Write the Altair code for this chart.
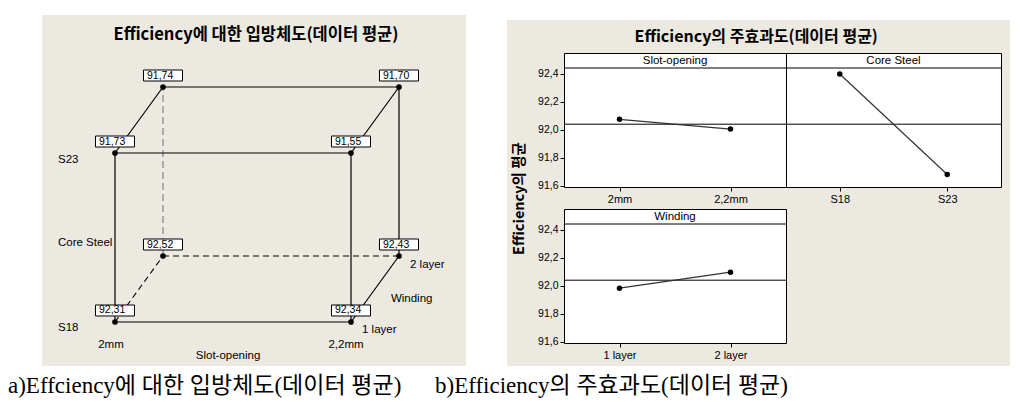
import altair as alt
import pandas as pd

GRAY = "#ECE9E1"
KFONT = "Noto Sans CJK KR"
LFONT = "Liberation Sans"

# ---------------- data: cube plot (data means at each corner) ----------------
slot_levels = ["2mm", "2,2mm"]
core_levels = ["S18", "S23"]
winding_levels = ["1 layer", "2 layer"]
cube_slot = [0, 1, 0, 1, 0, 1, 0, 1]          # 0 = 2mm, 1 = 2,2mm
cube_core = [0, 0, 1, 1, 0, 0, 1, 1]          # 0 = S18, 1 = S23
cube_wind = [0, 0, 0, 0, 1, 1, 1, 1]          # 0 = 1 layer, 1 = 2 layer
cube_values = [92.31, 92.34, 91.73, 91.55, 92.52, 92.43, 91.74, 91.70]

# ---------------- data: main effects ----------------
slot_means = [92.075, 92.005]
core_means = [92.40, 91.68]
wind_means = [91.9825, 92.0975]
grand_mean = 92.04
y_ticks = [91.6, 91.8, 92.0, 92.2, 92.4]

left_title = "Efficiency에 대한 입방체도(데이터 평균)"
right_title = "Efficiency의 주효과도(데이터 평균)"
y_title = "Efficiency의 평균"
caption_a = "a)Effciency에 대한 입방체도(데이터 평균)"
caption_b = "b)Efficiency의 주효과도(데이터 평균)"

# ---------------- cube plot ----------------
DX, DY = 0.2034, 0.3905   # oblique projection of the Winding axis
cube = pd.DataFrame({"slot": cube_slot, "core": cube_core, "wind": cube_wind, "value": cube_values})
cube["px"] = cube["slot"] + DX * cube["wind"]
cube["py"] = cube["core"] + DY * cube["wind"]
cube["label"] = [f"{v:.2f}".replace(".", ",") for v in cube_values]

edge_list = [(0, 1, "solid"), (2, 3, "solid"), (0, 2, "solid"), (1, 3, "solid"),
             (6, 7, "solid"), (5, 7, "solid"), (2, 6, "solid"), (3, 7, "solid"),
             (1, 5, "solid"), (4, 5, "dash"), (0, 4, "dash"), (4, 6, "gray")]
rows = []
for i, (a, b, s) in enumerate(edge_list):
    for k, idx in enumerate((a, b)):
        rows.append({"edge": i, "ord": k, "px": cube.px[idx], "py": cube.py[idx], "style": s})
edges = pd.DataFrame(rows)

XD = [-0.3093, 1.4873]
YD = [-0.2604, 1.8166]
CX = alt.X("px:Q", scale=alt.Scale(domain=XD, nice=False, zero=False), axis=None)
CY = alt.Y("py:Q", scale=alt.Scale(domain=YD, nice=False, zero=False), axis=None)

def edge_layer(style, **kw):
    return alt.Chart(edges[edges["style"] == style]).mark_line(**kw).encode(
        x=CX, y=CY, detail="edge:N", order="ord:Q")

gray_edges = edge_layer("gray", color="#8c8c8c", strokeWidth=1.3, strokeDash=[7, 4])
dash_edges = edge_layer("dash", color="black", strokeWidth=1.1, strokeDash=[6, 4])
solid_edges = edge_layer("solid", color="black", strokeWidth=1.2)
dots = alt.Chart(cube).mark_circle(size=32, color="black", opacity=1).encode(x=CX, y=CY)
boxes = alt.Chart(cube).mark_rect(width=39, height=11, yOffset=-11.5, fill="white",
                                  stroke="black", strokeWidth=1).encode(x=CX, y=CY)
box_text = alt.Chart(cube).mark_text(align="left", baseline="middle", dx=-16, dy=-11.5,
                                     font=LFONT, fontSize=10.5, color="black").encode(
    x=CX, y=CY, text="label:N")

ann_left = pd.DataFrame({
    "text": ["S23", "S18", "Core Steel", "2 layer", "Winding", "1 layer"],
    "px": [-0.2415, -0.2415, -0.2415, 1.25, 1.169, 1.0466],
    "py": [0.9586, -0.0355, 0.4675, 0.337, 0.136, -0.047],
})
ann_center = pd.DataFrame({
    "text": ["2mm", "2,2mm", "Slot-opening"],
    "px": [-0.017, 0.979, 0.479],
    "py": [-0.136, -0.136, -0.201],
})
ann_l = alt.Chart(ann_left).mark_text(align="left", baseline="middle", font=LFONT,
                                      fontSize=11.5, color="black").encode(x=CX, y=CY, text="text:N")
ann_c = alt.Chart(ann_center).mark_text(align="center", baseline="middle", font=LFONT,
                                        fontSize=11.5, color="black").encode(x=CX, y=CY, text="text:N")
ltitle = alt.Chart(pd.DataFrame({"t": [left_title]})).mark_text(
    font=KFONT, fontSize=16.5, fontWeight="bold", color="black", baseline="middle").encode(
    text="t:N", x=alt.value(214), y=alt.value(20))

left_panel = alt.layer(gray_edges, dash_edges, solid_edges, dots, boxes, box_text,
                       ann_l, ann_c, ltitle).properties(width=424, height=351)

# ---------------- main effects plot ----------------
YDOM = [91.59, 92.55]
PH = 134

def effect_panel(levels, means, header, width, show_y, with_title=False):
    df = pd.DataFrame({"level": levels, "mean": means})
    x = alt.X("level:N", sort=levels, scale=alt.Scale(type="point", padding=0.5),
              axis=alt.Axis(title=None, labelAngle=0, domain=False, grid=False, tickSize=4,
                            tickColor="black", labelColor="black", labelFont=LFONT,
                            labelFontSize=11, labelPadding=2))
    if show_y:
        ax_kw = dict(values=y_ticks, labelExpr="replace(format(datum.value, '.1f'), '.', ',')",
                     domain=False, grid=False, tickSize=4, tickColor="black",
                     labelColor="black", labelFont=LFONT, labelFontSize=10.5, labelPadding=2)
        if with_title:
            ax_kw.update(title=y_title, titleFont=KFONT, titleFontSize=14.5, titleFontWeight="bold",
                         titleColor="black", titleX=-38, titleY=145, titleAngle=270,
                         titleAlign="center", titleBaseline="bottom")
        else:
            ax_kw.update(title=None)
        yax = alt.Axis(**ax_kw)
    else:
        yax = None
    sc = alt.Scale(domain=YDOM, nice=False, zero=False)
    if yax is None:
        ye = alt.Y("mean:Q", scale=sc, axis=None)
        ym = alt.Y("m:Q", scale=sc, axis=None)
    else:
        ye = alt.Y("mean:Q", scale=sc, axis=yax)
        ym = alt.Y("m:Q", scale=sc, axis=yax)
    base = alt.Chart(df)
    mean_rule = alt.Chart(pd.DataFrame({"m": [grand_mean]})).mark_rule(
        color="black", strokeWidth=1).encode(y=ym)
    head_rule = alt.Chart(pd.DataFrame({"h": [0]})).mark_rule(color="black", strokeWidth=1).encode(
        x=alt.value(0), x2=alt.value(width), y=alt.value(15))
    head_text = alt.Chart(pd.DataFrame({"t": [header]})).mark_text(
        font=LFONT, fontSize=11.5, color="black", baseline="middle").encode(
        text="t:N", x=alt.value(width / 2), y=alt.value(8))
    line = base.mark_line(color="#333333", strokeWidth=1.2).encode(x=x, y=ye)
    pts = base.mark_circle(size=30, color="black", opacity=1).encode(x=x, y=ye)
    return alt.layer(mean_rule, head_rule, head_text, line, pts).properties(
        width=width, height=PH,
        view=alt.ViewBackground(fill="white", stroke="black", strokeWidth=1))

slot_p = effect_panel(slot_levels, slot_means, "Slot-opening", 222, True, True)
core_p = effect_panel(core_levels, core_means, "Core Steel", 215, False)
wind_p = effect_panel(winding_levels, wind_means, "Winding", 222, True)

right_panel = alt.concat(
    slot_p, core_p, wind_p, columns=2, spacing={"row": 22, "column": 0}, bounds="flush",
    title=alt.TitleParams(right_title, font=KFONT, fontSize=16, fontWeight="bold",
                          color="black", anchor="middle", offset=8))

# ---------------- layout fillers ----------------
def filler(w, h, fill=None):
    c = alt.Chart(pd.DataFrame({"z": [0]})).mark_rect(opacity=0).encode(
        x=alt.value(0), x2=alt.value(1), y=alt.value(0), y2=alt.value(1))
    if fill:
        return c.properties(width=w, height=h, view=alt.ViewBackground(fill=fill))
    return c.properties(width=w, height=h)

left_col = alt.vconcat(filler(424, 7, "white"), left_panel, spacing=0)
right_col = alt.vconcat(filler(503, 12, "white"), filler(1, 8),
                        alt.hconcat(filler(3, 1), right_panel, spacing=0), spacing=0)
row1 = alt.hconcat(filler(34, 358, "white"), left_col, filler(41, 358, "white"),
                   right_col, filler(1, 358, "white"), spacing=0)

CAPFONT = "'Liberation Serif', 'Noto Sans CJK KR'"
cap_a = alt.Chart(pd.DataFrame({"t": [caption_a]})).mark_text(
    align="left", baseline="alphabetic", font=CAPFONT,
    fontSize=23, color="black").encode(text="t:N", x=alt.value(0), y=alt.value(27))
cap_b = alt.Chart(pd.DataFrame({"t": [caption_b]})).mark_text(
    align="left", baseline="alphabetic", font=CAPFONT,
    fontSize=23, color="black").encode(text="t:N", x=alt.value(427), y=alt.value(27))
caption = alt.layer(cap_a, cap_b).properties(
    width=1003, height=32, view=alt.ViewBackground(fill="white"))

chart = alt.vconcat(row1, caption, spacing=0).properties(
    background=GRAY, padding=0).configure_view(stroke=None)

chart.save("out.html", embed_options={"renderer": "svg", "actions": False})
